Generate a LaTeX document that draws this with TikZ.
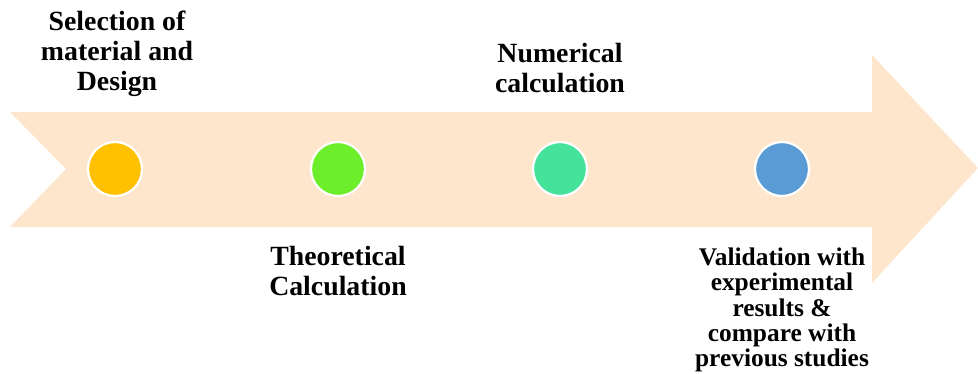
\documentclass[tikz,border=0pt]{standalone}
\usepackage{fontspec}
\setmainfont{Liberation Serif}
\definecolor{peach}{HTML}{FEE6CC}
\definecolor{cOrange}{HTML}{FFC000}
\definecolor{cGreen}{HTML}{6CEE2A}
\definecolor{cTeal}{HTML}{45E29C}
\definecolor{cBlue}{HTML}{5B9BD5}
\begin{document}
\begin{tikzpicture}[x=1pt,y=-1pt,
  dot/.style={circle,draw=white,line width=2.2pt,minimum size=54pt,inner sep=0pt},
  lbl/.style={align=center,inner sep=0pt,font=\bfseries\fontsize{27.8}{30}\selectfont},
  lblsmall/.style={align=center,inner sep=0pt,font=\bfseries\fontsize{25.4}{25.2}\selectfont}]
\useasboundingbox (0,0) rectangle (978,373);
\fill[peach] (10,112) -- (872,112) -- (872,55) -- (978,168) -- (872,283) -- (872,227) -- (10,227) -- (66,169) -- cycle;
\node[dot,fill=cOrange] (c1) at (115,169) {};
\node[dot,fill=cGreen] (c2) at (338,169) {};
\node[dot,fill=cTeal] (c3) at (560,169) {};
\node[dot,fill=cBlue] (c4) at (782,169) {};
\node[lbl] (t1) at (117,53.5) {Selection of\\material and\\Design};
\node[lbl] (t2) at (338,271) {Theoretical\\Calculation};
\node[lbl] (t3) at (560,68) {Numerical\\calculation};
\node[lblsmall] (t4) at (782,310) {Validation with\\experimental\\results \&\\compare with\\previous studies};
\end{tikzpicture}
\end{document}
